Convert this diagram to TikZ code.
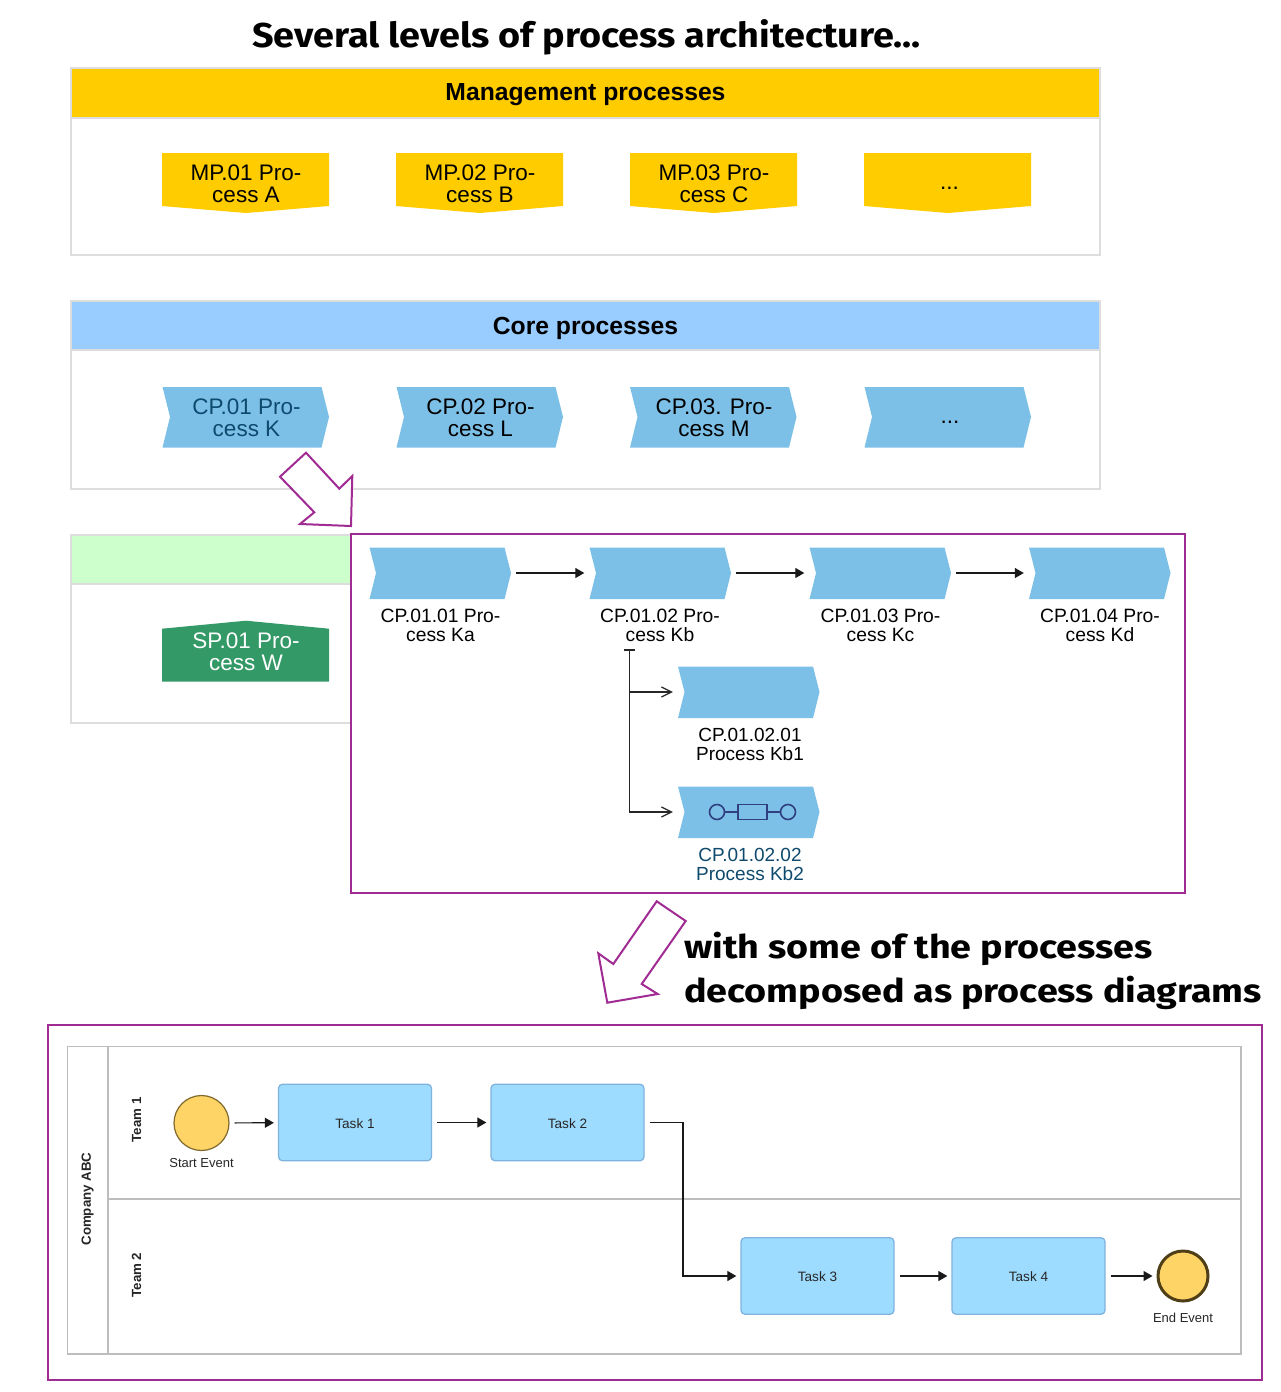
\documentclass[tikz,border=0pt]{standalone}
\usepackage{fontspec}
\setmainfont{Liberation Sans}
\newfontfamily\titlefont{Fira Sans}[FakeStretch=1.095]
\newfontfamily\headfont{Fira Sans}[FakeStretch=1.16]
\usetikzlibrary{arrows.meta}
\definecolor{mgold}{HTML}{FFCC00}
\definecolor{cblue}{HTML}{99CCFF}
\definecolor{sgreen}{HTML}{CCFFCC}
\definecolor{chev}{HTML}{7DC0E7}
\definecolor{sp}{HTML}{339966}
\definecolor{purp}{HTML}{A02B93}
\definecolor{boxgray}{HTML}{DDDDDD}
\definecolor{lanegray}{HTML}{BDBDBD}
\definecolor{darktxt}{HTML}{0E4A6E}
\definecolor{navy}{HTML}{2F3F80}
\definecolor{taskfill}{HTML}{9EDCFF}
\definecolor{taskline}{HTML}{7FB3DE}
\definecolor{evfill}{HTML}{FFD466}
\definecolor{evline}{HTML}{7F6A2C}
\definecolor{evdark}{HTML}{4F3F17}
\tikzset{
  framebox/.style={draw=boxgray,line width=1.3pt,fill=white},
  headtxt/.style={font=\fontsize{24.7}{26}\selectfont\bfseries,inner sep=0pt},
  proc/.style={inner sep=0pt,align=center,minimum width=167pt,minimum height=54pt,font=\fontsize{22.5}{22.3}\selectfont},
  sub/.style={inner sep=0pt,align=center,minimum width=141pt,minimum height=51pt},
  sublab/.style={inner sep=0pt,align=center,font=\fontsize{19.3}{19}\selectfont},
  sublabb/.style={inner sep=0pt,align=center,font=\fontsize{19}{19}\selectfont},
  bigtxt/.style={inner sep=0pt,anchor=west,font=\fontsize{34.5}{34}\titlefont\bfseries\selectfont},
  bigtxtb/.style={inner sep=0pt,anchor=west,font=\fontsize{32.5}{33}\headfont\bfseries\selectfont},
  purpframe/.style={draw=purp,line width=2pt},
  bigarrow/.style={draw=purp,line width=2pt,fill=white,line join=miter},
  flow/.style={draw=black!90,line width=1.2pt,-{Triangle[length=9pt,width=10pt]},shorten <=5pt,shorten >=5pt},
  openflow/.style={draw=black!85,line width=1.2pt,-{Straight Barb[length=10pt,width=10pt]},shorten >=5pt},
  task/.style={draw=taskline,line width=1.3pt,fill=taskfill,rounded corners=4pt,minimum width=153pt,minimum height=76.5pt,inner sep=0pt,font=\fontsize{13.6}{13}\selectfont,text=black!85},
  evlab/.style={inner sep=0pt,font=\fontsize{13}{13}\selectfont,text=black!85},
  lanelab/.style={inner sep=0pt,rotate=90,font=\fontsize{13.3}{13}\selectfont\bfseries,text=black!85},
  lanebox/.style={draw=lanegray,line width=1.5pt}
}
% name, left x, colour of text, text: chevrons of the process rows
\newcommand{\mgrow}[4]{%
  \fill[mgold] (#2,153) -- (#2+167,153) -- (#2+167,206) -- (#2+84,213) -- (#2,206) -- cycle;
  \node[proc,text=#3] (#1) at (#2+84,183.5) {#4};}
\newcommand{\cprow}[4]{%
  \fill[chev] (#2,387) -- (#2+159,387) -- (#2+166.5,417) -- (#2+159,447.5) -- (#2,447.5) -- (#2+7.5,417) -- cycle;
  \node[proc,text=#3] (#1) at (#2+84,417.5) {#4};}
% name, left x, mid y
\newcommand{\subchev}[3]{%
  \fill[chev] (#2,#3-25.5) -- (#2+135,#3-25.5) -- (#2+141.5,#3) -- (#2+135,#3+26) -- (#2,#3+26) -- (#2+6.5,#3) -- cycle;
  \node[sub] (#1) at (#2+70.5,#3) {};}
\newcommand{\dotsup}{\hspace*{3pt}\raisebox{-5pt}[\height][\depth]{...}}
\newcommand{\tasktxt}[1]{\raisebox{-1pt}[\height][\depth]{#1}}
\begin{document}
\begin{tikzpicture}[x=1pt,y=-1pt]
\useasboundingbox (0,0) rectangle (1280,1392);
\fill[white] (0,0) rectangle (1280,1392);

\node[bigtxt] (title) at (252,37) {Several levels of process architecture...};

% Management
\draw[framebox] (71,68) rectangle (1100,255);
\fill[mgold] (71.7,68.7) rectangle (1099.3,117.5);
\draw[boxgray,line width=1.2pt] (71,118) -- (1100,118);
\node[headtxt] (mgmt) at (585.5,94.5) {Management processes};
\mgrow{mp1}{162}{black}{MP.01 Pro-\\cess A}
\mgrow{mp2}{396}{black}{MP.02 Pro-\\cess B}
\mgrow{mp3}{630}{black}{MP.03 Pro-\\cess C}
\mgrow{mp4}{864}{black}{\dotsup}

% Core
\draw[framebox] (71,301) rectangle (1100,489);
\fill[cblue] (71.7,301.7) rectangle (1099.3,349.5);
\draw[boxgray,line width=1.2pt] (71,350) -- (1100,350);
\node[headtxt] (core) at (585.5,328) {Core processes};
\cprow{cp1}{162.5}{darktxt}{CP.01 Pro-\\cess K}
\cprow{cp2}{396.5}{black}{CP.02 Pro-\\cess L}
\cprow{cp3}{630}{black}{CP.03. Pro-\\cess M}
\cprow{cp4}{864.5}{black}{\dotsup}

% Support
\draw[framebox] (351,535) -- (71,535) -- (71,723) -- (351,723);
\fill[sgreen] (71.7,535.7) rectangle (351,583.5);
\draw[boxgray,line width=1.2pt] (71,584) -- (351,584);
\fill[sp] (162,628.7) -- (246,620.7) -- (329,628.7) -- (329,681.7) -- (162,681.7) -- cycle;
\node[proc,text=white] (sp1) at (246,651.5) {SP.01 Pro-\\cess W};

% Decomposition frame
\draw[purpframe] (351,534) rectangle (1185,893);
\subchev{a}{369.5}{573}
\subchev{b}{589.5}{573}
\subchev{c}{809.5}{573}
\subchev{d}{1029}{573}
\node[sublab] (alab) at (440.5,625.5) {CP.01.01 Pro-\\cess Ka};
\node[sublab] (blab) at (660,625.5) {CP.01.02 Pro-\\cess Kb};
\node[sublab] (clab) at (880.5,625.5) {CP.01.03 Pro-\\cess Kc};
\node[sublab] (dlab) at (1100,625.5) {CP.01.04 Pro-\\cess Kd};
\draw[flow] (a.east) -- (b.west);
\draw[flow] (b.east) -- (c.west);
\draw[flow] (c.east) -- (d.west);
\subchev{e}{678}{692}
\subchev{f}{678}{812}
\node[sublabb] (elab) at (750,744) {CP.01.02.01\\Process Kb1};
\node[sublabb,text=darktxt] (flab) at (750,864.5) {CP.01.02.02\\Process Kb2};
\coordinate (branch) at (629.5,650);
\draw[black!85,line width=1.2pt] (624,650) -- (635,650);
\draw[openflow] (branch) |- (e.west);
\draw[openflow] (branch) |- (f.west);
% icon
\node[draw=navy,line width=1.6pt,circle,minimum size=15pt,inner sep=0pt] (ic1) at (717,812) {};
\node[draw=navy,line width=1.6pt,circle,minimum size=15pt,inner sep=0pt] (ic2) at (788,812) {};
\node[draw=navy,line width=1.6pt,minimum width=29pt,minimum height=15pt,inner sep=0pt] (ic3) at (752.5,812) {};
\draw[navy,line width=1.6pt] (ic1) -- (ic3) -- (ic2);

% Hollow arrows
\draw[bigarrow] (306,452.7) -- (339.3,488.7) -- (352.3,476) -- (351,526) -- (300,524) -- (314.3,512.3) -- (280,476.7) -- cycle;
\draw[bigarrow] (656.7,901.3) -- (685.7,921) -- (641.7,984) -- (657.7,994) -- (607.3,1002.7) -- (598.3,953.3) -- (613.3,964) -- cycle;

\node[bigtxtb] (line1) at (684,949) {with some of the processes};
\node[bigtxtb] (line2) at (684,993) {decomposed as process diagrams};

% Process diagram
\draw[purpframe] (48,1025) rectangle (1262,1380);
\draw[lanebox] (67.5,1046.5) rectangle (1241,1354);
\draw[lanebox] (108,1046.5) -- (108,1354);
\draw[lanebox] (108,1199) -- (1241,1199);
\node[lanelab] (company) at (87.5,1199) {Company ABC};
\node[lanelab] (team1) at (136.5,1120) {Team 1};
\node[lanelab] (team2) at (136.5,1275) {Team 2};

\node[draw=evline,line width=1.2pt,fill=evfill,circle,minimum size=55pt,inner sep=0pt] (start) at (201.5,1123) {};
\node[evlab] (startlab) at (201.5,1163.5) {Start Event};
\node[task] (t1) at (355,1122.5) {\tasktxt{Task 1}};
\node[task] (t2) at (567.5,1122.5) {\tasktxt{Task 2}};
\node[task] (t3) at (817.5,1276) {\tasktxt{Task 3}};
\node[task] (t4) at (1028.5,1276) {\tasktxt{Task 4}};
\node[draw=evdark,line width=3pt,fill=evfill,circle,minimum size=50pt,inner sep=0pt] (endev) at (1183,1276) {};
\node[evlab] (endlab) at (1183,1317.5) {End Event};
\draw[flow,shorten >=4pt] (start) -- (t1);
\draw[flow,shorten >=4pt] (t1) -- (t2);
\draw[flow,shorten >=4pt] (t2.east) -- (683,1122.5) -- (683,1276) -- (t3.west);
\draw[flow,shorten >=4pt] (t3) -- (t4);
\draw[flow,shorten >=4pt] (t4) -- (endev);
\end{tikzpicture}
\end{document}
